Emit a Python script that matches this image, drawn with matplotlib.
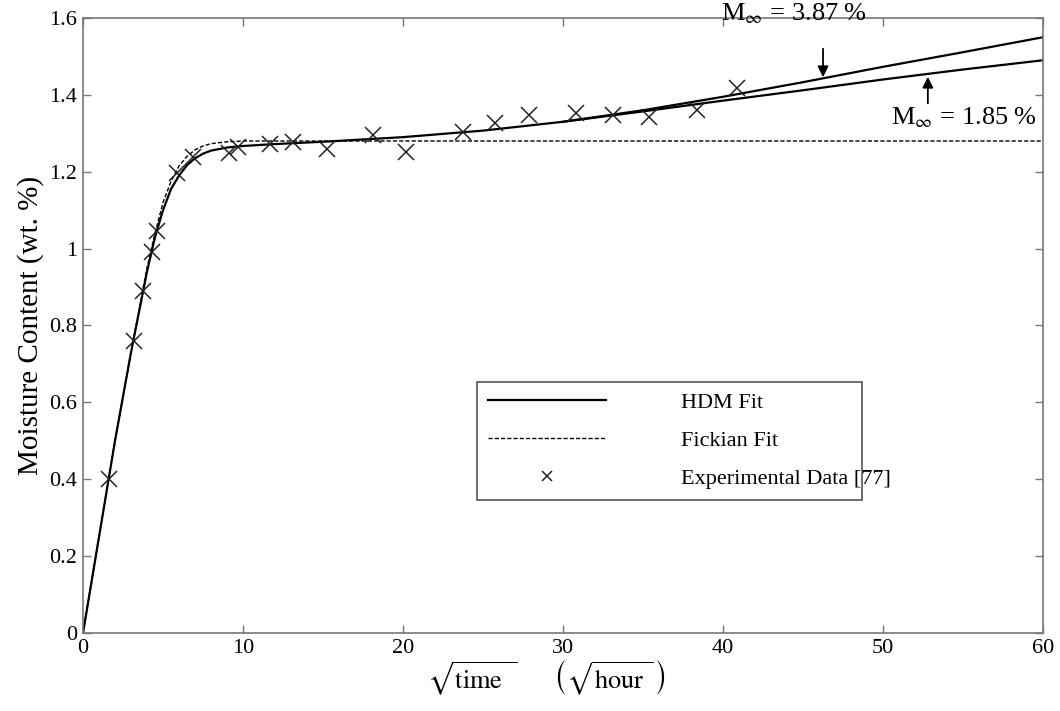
import matplotlib
matplotlib.use('Agg')
import matplotlib.pyplot as plt

plt.rcParams['font.family'] = ['Liberation Serif', 'DejaVu Serif']
plt.rcParams['mathtext.fontset'] = 'stix'

# experimental data [77]
exp_x = [1.6, 3.2, 3.75, 4.3, 4.6, 5.9, 6.9, 9.1, 9.7, 11.7, 13.1, 15.25,
         18.1, 20.2, 23.75, 25.75, 27.9, 30.8, 33.1, 35.4, 38.4, 40.9]
exp_y = [0.40, 0.76, 0.89, 0.99, 1.046, 1.197, 1.238, 1.249, 1.264, 1.272,
         1.277, 1.259, 1.296, 1.251, 1.303, 1.327, 1.347, 1.353, 1.347,
         1.342, 1.361, 1.418]

# curves
fick_x = [0, 1, 2, 3, 4, 4.5, 5, 5.5, 6, 6.5, 7, 7.5, 8, 9, 10, 12, 60]
fick_y = [0, 0.25, 0.5, 0.73, 0.95, 1.04, 1.12, 1.175, 1.215, 1.24, 1.257,
          1.267, 1.273, 1.278, 1.28, 1.28, 1.28]

hdm_x = [0, 1, 2, 3, 4, 4.5, 5, 5.5, 6, 6.5, 7, 7.5, 8, 9, 10, 12, 15, 20, 25, 30]
hdm_y = [0, 0.25, 0.5, 0.73, 0.94, 1.03, 1.10, 1.155, 1.19, 1.217, 1.235,
         1.247, 1.255, 1.263, 1.267, 1.272, 1.278, 1.29, 1.307, 1.33]

hdm_hi_x = [30, 35, 40, 45, 50, 55, 60]
hdm_hi_y = [1.33, 1.36, 1.395, 1.433, 1.473, 1.511, 1.55]
hdm_lo_x = [30, 35, 40, 45, 50, 55, 60]
hdm_lo_y = [1.33, 1.357, 1.385, 1.412, 1.44, 1.466, 1.49]

x_ticks = [0, 10, 20, 30, 40, 50, 60]
y_ticks = [0, 0.2, 0.4, 0.6, 0.8, 1.0, 1.2, 1.4, 1.6]
y_ticklabels = ['0', '0.2', '0.4', '0.6', '0.8', '1', '1.2', '1.4', '1.6']

fig = plt.figure(figsize=(10.6, 7.11), dpi=100)
ax = fig.add_axes([0.0783, 0.1097, 0.9057, 0.865])

ax.plot(hdm_x + hdm_hi_x[1:], hdm_y + hdm_hi_y[1:], color='black', lw=1.6,
        label='HDM Fit')
ax.plot(hdm_lo_x, hdm_lo_y, color='black', lw=1.6)
ax.plot(fick_x, fick_y, color='black', lw=1.0, ls=(0, (3, 1.5)),
        label='Fickian Fit')
ax.plot(exp_x, exp_y, ls='none', marker='x', ms=11, mew=1.1, color='#222222',
        label='Experimental Data [77]')

ax.set_xlim(0, 60)
ax.set_ylim(0, 1.6)
ax.set_xticks(x_ticks)
ax.set_yticks(y_ticks)
ax.set_yticklabels(y_ticklabels)
ax.tick_params(direction='in', length=6, width=1, color='#777777',
               labelsize=16, top=True, right=True, pad=4)
for s in ax.spines.values():
    s.set_color('#777777')
    s.set_linewidth(1.2)

ax.set_ylabel('Moisture Content (wt. %)', fontsize=21, labelpad=4)
ax.set_xlabel(r'$\sqrt{\mathrm{time}\;\;}\quad\quad\left(\sqrt{\mathrm{hour}\;}\,\right)$',
              fontsize=19)
ax.xaxis.set_label_coords(0.483, -0.042)

# annotations
ax.text(39.9, 1.61, r'M$_{\infty}$ = 3.87 %', fontsize=19, va='center',
        ha='left', clip_on=False)
ax.annotate('', xy=(46.25, 1.446), xytext=(46.25, 1.52),
            arrowprops=dict(arrowstyle='-|>', color='black', lw=1.3,
                            mutation_scale=16, shrinkA=0, shrinkB=0))
ax.text(50.5, 1.34, r'M$_{\infty}$ = 1.85 %', fontsize=19, va='center',
        ha='left')
ax.annotate('', xy=(52.8, 1.447), xytext=(52.8, 1.378),
            arrowprops=dict(arrowstyle='-|>', color='black', lw=1.3,
                            mutation_scale=16, shrinkA=0, shrinkB=0))

leg = ax.legend(loc='lower left', bbox_to_anchor=(0.41, 0.216, 0.401, 0.194),
                mode='expand', fontsize=16, handlelength=5.3,
                handletextpad=3.4, labelspacing=0.78, borderpad=0.5,
                borderaxespad=0, markerscale=0.7, fancybox=False,
                framealpha=1)
leg.get_frame().set_edgecolor('#555555')
leg.get_frame().set_linewidth(1.2)

plt.savefig('out.png', dpi=100)
